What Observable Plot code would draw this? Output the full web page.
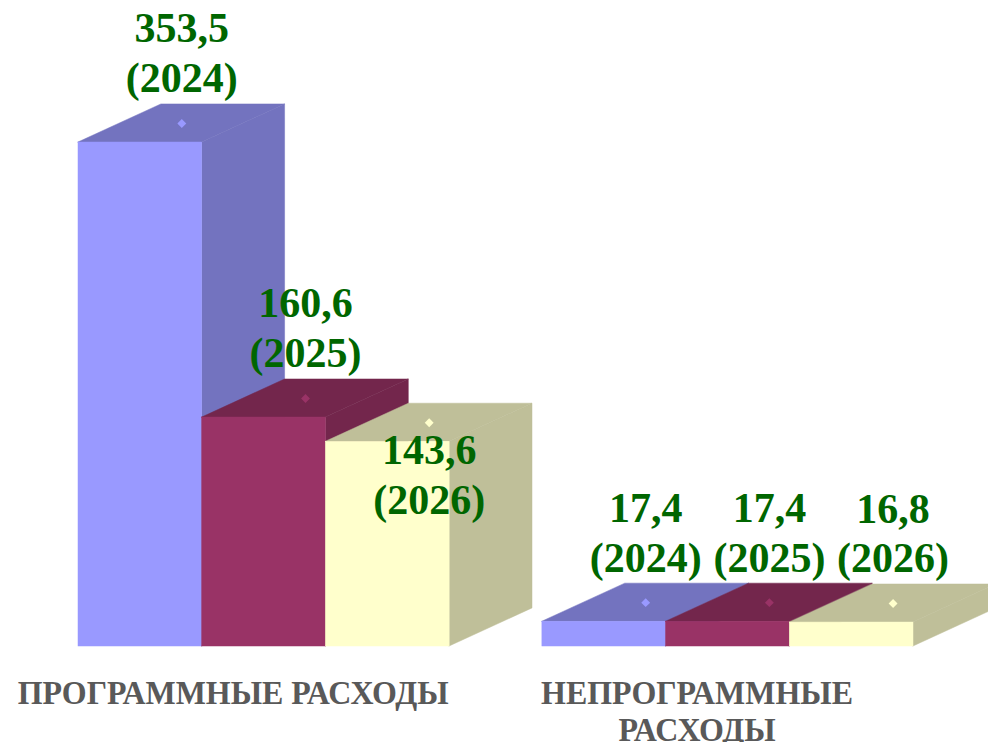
<!DOCTYPE html>
<html><head><meta charset="utf-8">
<script src="https://cdn.jsdelivr.net/npm/d3@7"></script>
<script src="https://cdn.jsdelivr.net/npm/@observablehq/plot@0.6"></script>
<style>
html,body{margin:0;padding:0;background:#fff;overflow:hidden;}
#chart svg{overflow:hidden;display:block;}
</style>
</head><body><div id="chart"></div>
<script>
// ---- data ----
const categories = ["ПРОГРАММНЫЕ РАСХОДЫ", "НЕПРОГРАММНЫЕ\nРАСХОДЫ"];
const years = ["2024", "2025", "2026"];
const values2024 = [353.5, 17.4];
const values2025 = [160.6, 17.4];
const values2026 = [143.6, 16.8];

// ---- styles ----
const frontColors = ["#9999FF", "#993366", "#FFFFCC"];
const shadeColors = ["#7373BF", "#73264C", "#BFBF99"];
const FONT = "'Liberation Serif', 'Times New Roman', serif";
const GROUP_STEP = 3.75;   // slot units between groups
const DX = 0.67;           // 3D depth in x units
const DY = 26.7;           // 3D depth in y units
const LABEL_SHIFT = {"0|2": 122}; // one label sits lower in the original

const series = [values2024, values2025, values2026];
const fmt = v => v.toFixed(1).replace(".", ",");

const bars = [];
categories.forEach((c, g) => years.forEach((yr, i) => {
  const x1 = g * GROUP_STEP + i;
  bars.push({category: c, year: yr, g, i, x1, x2: x1 + 1, v: series[i][g], y0: 0});
}));

const marks = [];
for (const b of bars) {
  const shade = shadeColors[b.i], front = frontColors[b.i];
  marks.push(Plot.areaY(
    [{x: b.x2, y1: 0, y2: b.v}, {x: b.x2 + DX, y1: DY, y2: b.v + DY}],
    {x: "x", y1: "y1", y2: "y2", fill: shade, stroke: shade, strokeWidth: 0.5}
  ));
  marks.push(Plot.areaX(
    [{y: b.v, x1: b.x1, x2: b.x2}, {y: b.v + DY, x1: b.x1 + DX, x2: b.x2 + DX}],
    {y: "y", x1: "x1", x2: "x2", fill: shade, stroke: shade, strokeWidth: 0.5}
  ));
  marks.push(Plot.rectY([b], {x1: "x1", x2: "x2", y1: "y0", y2: "v", fill: front, stroke: front, strokeWidth: 0.5}));
  marks.push(Plot.dot([b], {
    x: d => (d.x1 + d.x2) / 2 + DX / 2, y: d => d.v + DY / 2,
    symbol: "diamond2", r: 4, fill: front, stroke: "none"
  }));
}
for (const b of bars) {
  marks.push(Plot.text([b], {
    x: d => (d.x1 + d.x2) / 2 + DX / 2, y: d => d.v + DY,
    text: d => `${fmt(d.v)}\n(${d.year})`,
    lineAnchor: "bottom", lineHeight: 1.19,
    fontSize: 42, fontWeight: "bold", fontFamily: FONT, fill: "#006600",
    dy: -12 + (LABEL_SHIFT[`${b.g}|${b.i}`] || 0)
  }));
}
marks.push(Plot.text(categories, {
  x: (d, g) => g * GROUP_STEP + 1.25, y: () => 0,
  text: d => d, lineAnchor: "top", lineHeight: 1.09,
  fontSize: 34, fontWeight: "bold", fontFamily: FONT, fill: "#595959",
  dy: 31
}));

const chart = Plot.plot({
  width: 988, height: 742,
  margin: 0,
  x: {domain: [0, 6.75], range: [78, 913], axis: null},
  y: {domain: [0, 353.5], range: [646, 142], axis: null},
  marks
});
// narrow the category labels horizontally, like the original's condensed type
const textGroups = chart.querySelectorAll('g[aria-label="text"]');
const catGroup = textGroups[textGroups.length - 1];
if (catGroup) {
  catGroup.querySelectorAll("text").forEach(t => {
    const tr = t.getAttribute("transform") || "";
    t.setAttribute("transform", tr + " scale(0.94,1)");
  });
}
document.getElementById("chart").appendChild(chart);
</script>
</body></html>
